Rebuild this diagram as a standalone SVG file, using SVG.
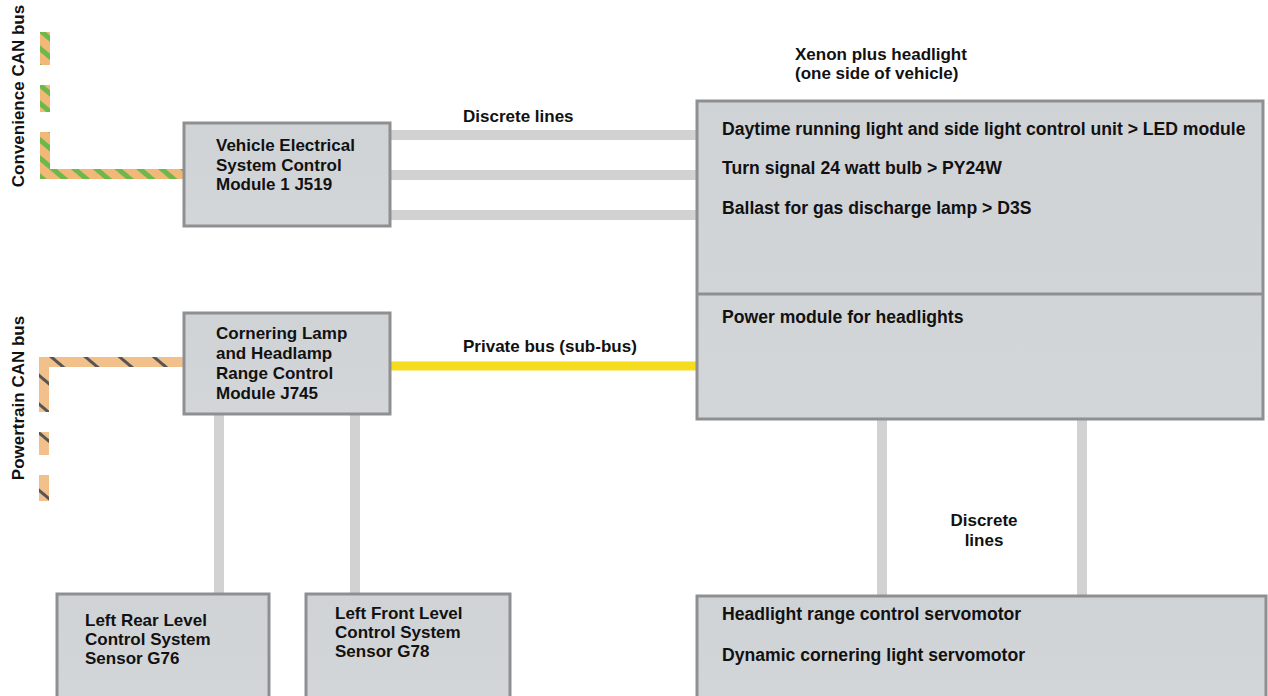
<svg xmlns="http://www.w3.org/2000/svg" width="1268" height="696" viewBox="0 0 1268 696">
<defs>
<pattern id="convStripe" patternUnits="userSpaceOnUse" width="14" height="14" patternTransform="rotate(-50)">
<rect width="14" height="14" fill="#f2b878"/>
<rect width="5" height="14" fill="#6cb84a"/>
</pattern>
<pattern id="ptStripe" patternUnits="userSpaceOnUse" width="22" height="22" patternTransform="rotate(-50)">
<rect width="22" height="22" fill="#f2c08a"/>
<rect width="3" height="22" fill="#555"/>
</pattern>
<linearGradient id="boxg" x1="0" y1="0" x2="0" y2="1">
<stop offset="0" stop-color="#d0d3d6"/>
<stop offset="1" stop-color="#d3d6d9"/>
</linearGradient>
</defs>
<style>
.box{fill:url(#boxg);stroke:#8e8f91;stroke-width:3}
.t{font-family:"Liberation Sans",Arial,sans-serif;font-weight:bold;font-size:17px;fill:#111}
.big{font-size:17.6px}
.disc{stroke:#d2d2d2;stroke-width:10;fill:none}
.lab{font-family:"Liberation Sans",Arial,sans-serif;font-weight:bold;font-size:17px;fill:#111}
</style>
<rect width="1268" height="696" fill="#fff"/>

<g id="connectors">
<g id="conv-can">
<path d="M45 32V65M45 85V112M45 132V174H184" stroke="url(#convStripe)" stroke-width="10" fill="none"/>
</g>
<g id="pt-can">
<path d="M44 501V475M44 455V432M44 412V362H184" stroke="url(#ptStripe)" stroke-width="10" fill="none"/>
</g>
<path class="disc" d="M390 135H697M390 175H697M390 215H697"/>
<path d="M390 366H697" stroke="#f5dc1e" stroke-width="9" fill="none"/>
<path class="disc" d="M219 414V594M355 414V594"/>
<path class="disc" d="M882 419V596M1082 419V596"/>
</g>

<text class="lab" transform="translate(24 96) rotate(-90)" text-anchor="middle">Convenience CAN bus</text>
<text class="lab" transform="translate(24 398) rotate(-90)" text-anchor="middle">Powertrain CAN bus</text>
<text class="lab" x="463" y="122">Discrete lines</text>
<text class="lab" x="463" y="352">Private bus (sub-bus)</text>
<text class="lab" x="984" y="526" text-anchor="middle">Discrete</text>
<text class="lab" x="984" y="546" text-anchor="middle">lines</text>

<g id="j519">
<rect class="box" x="184" y="123" width="206" height="103"/>
<text class="t" x="216" y="151">Vehicle Electrical</text>
<text class="t" x="216" y="171">System Control</text>
<text class="t" x="216" y="190">Module 1 J519</text>
</g>

<g id="j745">
<rect class="box" x="184" y="313" width="206" height="101"/>
<text class="t" x="216" y="339">Cornering Lamp</text>
<text class="t" x="216" y="359">and Headlamp</text>
<text class="t" x="216" y="379">Range Control</text>
<text class="t" x="216" y="399">Module J745</text>
</g>

<g id="headlight">
<text class="t" x="795" y="60">Xenon plus headlight</text>
<text class="t" x="795" y="79">(one side of vehicle)</text>
<rect class="box" x="697" y="101" width="566" height="318"/>
<line x1="697" y1="294" x2="1263" y2="294" stroke="#8e8f91" stroke-width="3"/>
<text class="t big" x="722" y="135">Daytime running light and side light control unit &gt; LED module</text>
<text class="t big" x="722" y="174">Turn signal 24 watt bulb &gt; PY24W</text>
<text class="t big" x="722" y="214">Ballast for gas discharge lamp &gt; D3S</text>
<text class="t big" x="722" y="323">Power module for headlights</text>
</g>

<g id="g76">
<rect class="box" x="57" y="594" width="212" height="110"/>
<text class="t" x="85" y="626">Left Rear Level</text>
<text class="t" x="85" y="645">Control System</text>
<text class="t" x="85" y="664">Sensor G76</text>
</g>

<g id="g78">
<rect class="box" x="306" y="594" width="204" height="110"/>
<text class="t" x="335" y="619">Left Front Level</text>
<text class="t" x="335" y="638">Control System</text>
<text class="t" x="335" y="657">Sensor G78</text>
</g>

<g id="servo">
<rect class="box" x="697" y="596" width="569" height="110"/>
<text class="t big" x="722" y="620">Headlight range control servomotor</text>
<text class="t big" x="722" y="661">Dynamic cornering light servomotor</text>
</g>
</svg>
